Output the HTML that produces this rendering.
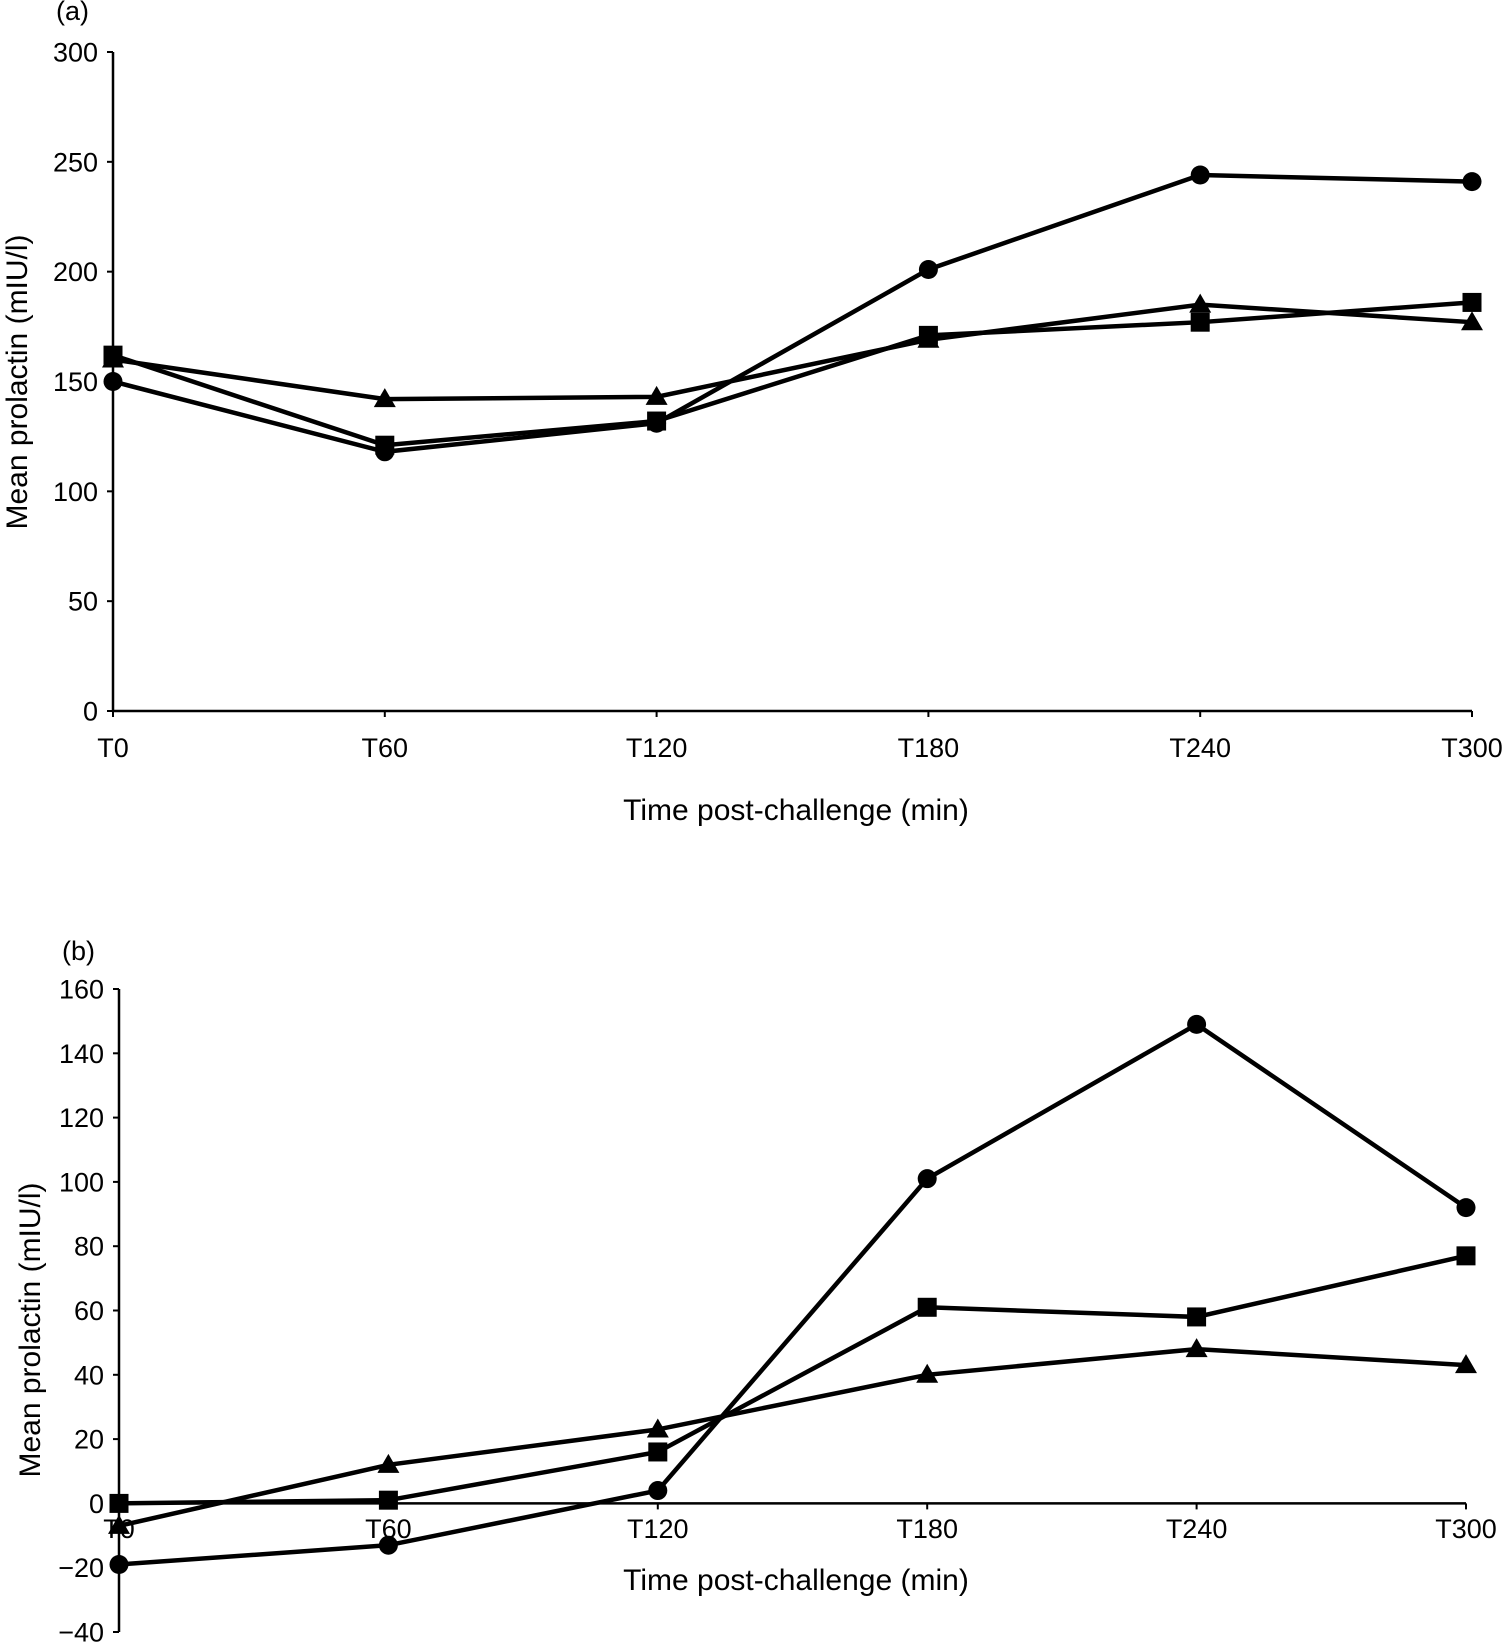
<!DOCTYPE html>
<html><head><meta charset="utf-8"><style>
html,body{margin:0;padding:0;background:#fff;}
svg{display:block;font-family:"Liberation Sans",sans-serif;}
</style></head><body>
<svg id="chart" width="1508" height="1644" viewBox="0 0 1508 1644" xmlns="http://www.w3.org/2000/svg"></svg>
<script>
const categories = ["T0","T60","T120","T180","T240","T300"];
const aCircle = [150,118,131,201,244,241];
const aSquare = [162,121,132,171,177,186];
const aTriangle = [160,142,143,169,185,177];
const aTicks = [0,50,100,150,200,250,300];
const bCircle = [-19,-13,4,101,149,92];
const bSquare = [0,1,16,61,58,77];
const bTriangle = [-7,12,23,40,48,43];
const bTicks = [-40,-20,0,20,40,60,80,100,120,140,160];

const NS="http://www.w3.org/2000/svg";
const svg=document.getElementById('chart');
function mk(tag,attrs,parent){const e=document.createElementNS(NS,tag);for(const k in attrs)e.setAttribute(k,attrs[k]);(parent||svg).appendChild(e);return e;}

function panel(cfg){
  const g=mk('g',{});
  
  
  const xs=i=>cfg.x0+(cfg.x1-cfg.x0)*i/(categories.length-1);
  const ys=v=>cfg.yBot+(cfg.yTop-cfg.yBot)*(v-cfg.min)/(cfg.max-cfg.min);
  const yAxis=mk('line',{x1:cfg.x0,x2:cfg.x0,y1:ys(cfg.max),y2:ys(cfg.min),stroke:'#000','stroke-width':2.5},g);
  
  
  cfg.ticks.forEach(t=>{
    mk('line',{x1:cfg.x0-6,x2:cfg.x0,y1:ys(t),y2:ys(t),stroke:'#000','stroke-width':2},g);
    const tx=mk('text',{x:cfg.x0-15,y:ys(t)+9.5,'text-anchor':'end','font-size':27},g);
    tx.textContent=t<0?'\u2212'+(-t):t;
    
    
  });
  const y0=ys(0);
  const xAxis=mk('line',{x1:cfg.x0,x2:cfg.x1,y1:y0,y2:y0,stroke:'#000','stroke-width':2.5},g);
  
  
  categories.forEach((c,i)=>{
    mk('line',{x1:xs(i),x2:xs(i),y1:y0,y2:y0+6,stroke:'#000','stroke-width':2},g);
    const tx=mk('text',{x:xs(i),y:cfg.xLabelY,'text-anchor':'middle','font-size':27},g);
    tx.textContent=c;
    
    
  });
  const xt=mk('text',{x:796,y:cfg.xTitleY,'text-anchor':'middle','font-size':30},g);
  xt.textContent='Time post-challenge (min)';
  
  
  const yt=mk('text',{transform:`translate(${cfg.yTitleX},${cfg.yTitleY}) rotate(-90)`,'text-anchor':'middle','font-size':30},g);
  yt.textContent='Mean prolactin (mIU/l)';
  
  
  const pl=mk('text',{x:cfg.x0-57,y:cfg.labelY,'font-size':27},g);
  pl.textContent=cfg.label;
  
  
  cfg.series.forEach(s=>{
    const pts=s.vals.map((v,i)=>xs(i)+','+ys(v)).join(' ');
    const line=mk('polyline',{points:pts,fill:'none',stroke:'#000','stroke-width':4.5},g);
    
    
    s.vals.forEach((v,i)=>{
      const cx=xs(i),cy=ys(v);let m;
      if(s.shape==='circle')m=mk('circle',{cx:cx,cy:cy,r:9.5,fill:'#000'},g);
      else if(s.shape==='square')m=mk('rect',{x:cx-9.5,y:cy-9.5,width:19,height:19,fill:'#000'},g);
      else m=mk('polygon',{points:`${cx},${cy-11} ${cx-11},${cy+8} ${cx+11},${cy+8}`,fill:'#000'},g);
      
      
    });
  });
}
panel({name:'panel-a',label:'(a)',labelY:20,x0:113,x1:1472,yTop:52,yBot:711,min:0,max:300,ticks:aTicks,
  xLabelY:757,xTitleY:820,yTitleX:27,yTitleY:382,
  series:[{name:'triangle-series',shape:'tri',vals:aTriangle},{name:'square-series',shape:'square',vals:aSquare},{name:'circle-series',shape:'circle',vals:aCircle}]});
panel({name:'panel-b',label:'(b)',labelY:960,x0:119,x1:1466,yTop:989,yBot:1632,min:-40,max:160,ticks:bTicks,
  xLabelY:1538,xTitleY:1590,yTitleX:40,yTitleY:1330,
  series:[{name:'triangle-series',shape:'tri',vals:bTriangle},{name:'square-series',shape:'square',vals:bSquare},{name:'circle-series',shape:'circle',vals:bCircle}]});
</script>
</body></html>
